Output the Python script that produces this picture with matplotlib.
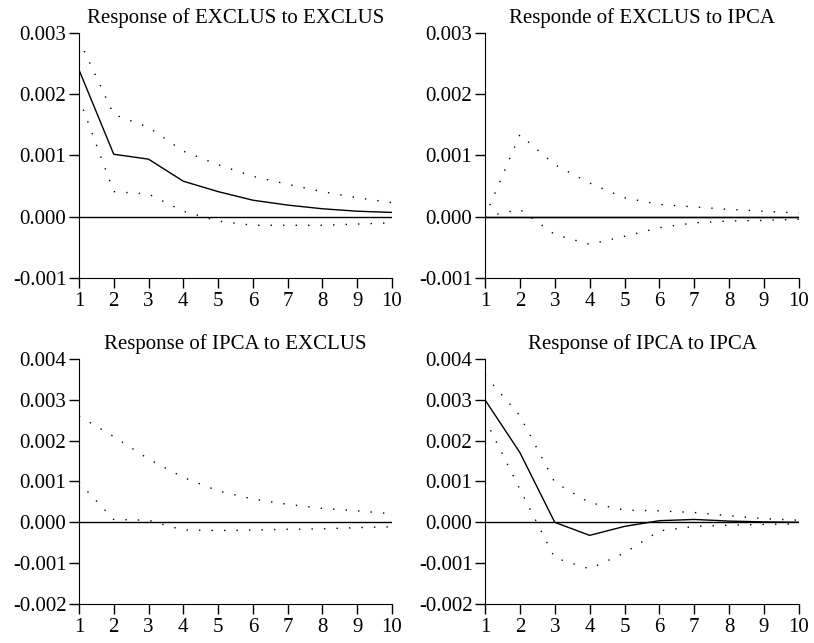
import matplotlib.pyplot as plt
from matplotlib.ticker import FormatStrFormatter

plt.rcParams['font.family'] = ['Liberation Serif', 'DejaVu Serif']

periods = [1, 2, 3, 4, 5, 6, 7, 8, 9, 10]

# Response of EXCLUS to EXCLUS
exEx = [0.0024, 0.00102, 0.00094, 0.00058, 0.00041, 0.00027, 0.00019, 0.00013, 0.00009, 0.00007]
exExUp = [0.00289, 0.00167, 0.00146, 0.00107, 0.00085, 0.00066, 0.00053, 0.00041, 0.00031, 0.00023]
exExLo = [0.00194, 0.00041, 0.00037, 0.00009, -0.00007, -0.00014, -0.00014, -0.00014, -0.00012, -0.00010]

# Response of EXCLUS to IPCA
exIp = [0, 0, 0, 0, 0, 0, 0, 0, 0, 0]
exIpUp = [0.0, 0.00134, 0.00085, 0.00055, 0.00031, 0.00020, 0.00016, 0.00012, 0.00009, 0.00006]
exIpLo = [0.0, 0.00012, -0.00029, -0.00045, -0.00032, -0.00018, -0.00010, -0.00007, -0.00006, -0.00004]

# Response of IPCA to EXCLUS
ipExUp = [0.0026, 0.0021, 0.00155, 0.0011, 0.00077, 0.00057, 0.00044, 0.00034, 0.00028, 0.00021]
ipExLo = [0.00098, 0.00007, 0.00005, -0.00019, -0.0002, -0.00019, -0.00017, -0.00016, -0.00013, -0.00011]

# Response of IPCA to IPCA
ipIp = [0.0030, 0.00171, 0.0, -0.00032, -0.0001, 0.00004, 0.00007, 0.00003, 0.00001, 0.0]
ipIpUp = [0.0036, 0.00261, 0.00098, 0.00048, 0.0003, 0.00028, 0.00024, 0.00016, 0.00009, 0.00005]
ipIpLo = [0.00253, 0.00081, -0.00087, -0.00114, -0.00075, -0.00021, -0.0001, -0.00007, -0.00005, -0.00004]

titles = ["Response of EXCLUS to EXCLUS", "Responde of EXCLUS to IPCA",
          "Response of IPCA to EXCLUS", "Response of IPCA to IPCA"]

fig = plt.figure(figsize=(8.14, 6.43), dpi=100)

boxes = [[0.097, 0.5677, 0.3845, 0.381],
         [0.5958, 0.5677, 0.3857, 0.381],
         [0.097, 0.0607, 0.3845, 0.381],
         [0.5958, 0.0607, 0.3857, 0.381]]

solids = [exEx, exIp, None, ipIp]
uppers = [exExUp, exIpUp, ipExUp, ipIpUp]
lowers = [exExLo, exIpLo, ipExLo, ipIpLo]

for i in range(4):
    ax = fig.add_axes(boxes[i])
    ax.axhline(0, color='black', lw=1)
    if solids[i] is not None:
        ax.plot(periods, solids[i], color='black', lw=1)
    ax.plot(periods, uppers[i], color='black', lw=1, linestyle=(0, (1, 8)))
    ax.plot(periods, lowers[i], color='black', lw=1, linestyle=(0, (1, 8)))
    ax.set_xlim(1, 10)
    if i < 2:
        ax.set_ylim(-0.001, 0.003)
        ax.set_yticks([-0.001, 0.0, 0.001, 0.002, 0.003])
    else:
        ax.set_ylim(-0.002, 0.004)
        ax.set_yticks([-0.002, -0.001, 0.0, 0.001, 0.002, 0.003, 0.004])
    ax.set_xticks(periods)
    ax.yaxis.set_major_formatter(FormatStrFormatter('%.3f'))
    ax.spines['top'].set_visible(False)
    ax.spines['right'].set_visible(False)
    ax.tick_params(labelsize=15, length=7.5, width=1, color='black')
    ax.tick_params(axis='y', pad=1.5)
    ax.tick_params(axis='x', pad=2.5)
    ax.set_title(titles[i], fontsize=15, pad=7)

plt.savefig('out.png', dpi=100)
